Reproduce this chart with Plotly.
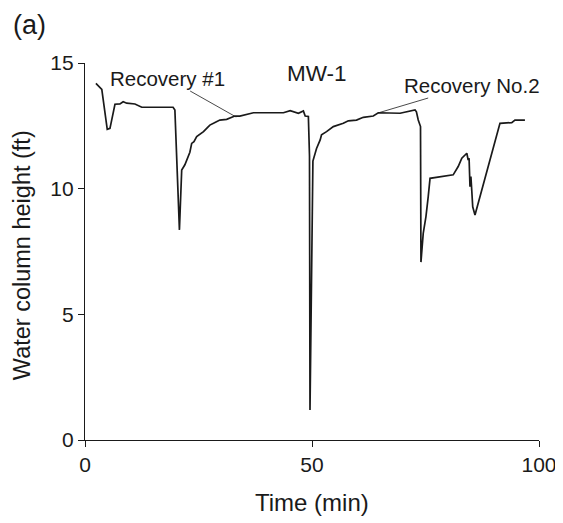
import plotly.graph_objects as go

# Time (min) and water column height (ft)
time_min = [2.4, 3.7, 4.9, 5.5, 6.6, 7.7, 8.4, 9.2, 11.0, 12.5, 19.4, 19.8, 20.8,
            21.3, 22.0, 22.4, 23.1, 23.5, 24.0, 24.6, 25.2, 26.1, 26.8, 27.5, 28.3,
            29.7, 31.2, 33.0, 34.1, 37.1, 43.7, 45.2, 47.0, 48.1, 48.5, 49.2, 49.45,
            49.56, 50.2, 50.5, 51.0, 51.8, 52.1, 53.2, 54.7, 56.9, 58.0, 59.8, 61.3,
            63.5, 64.6, 69.4, 72.7, 73.0, 73.4, 73.9, 74.0, 74.5, 75.1, 75.6, 76.0,
            81.1, 82.2, 83.0, 83.7, 84.1, 84.4, 84.6, 84.8, 85.0, 85.2, 85.4, 85.9,
            91.4, 94.0, 94.7, 96.9]
height_ft = [14.19, 13.95, 12.36, 12.4, 13.36, 13.37, 13.46, 13.4, 13.37, 13.24, 13.24,
             13.13, 8.36, 10.74, 10.95, 11.14, 11.45, 11.8, 11.87, 12.07, 12.14, 12.27,
             12.4, 12.53, 12.6, 12.73, 12.76, 12.89, 12.89, 13.02, 13.02, 13.1, 13.0,
             13.09, 12.89, 12.87, 11.3, 1.19, 11.1, 11.3, 11.6, 11.94, 12.14, 12.27,
             12.47, 12.6, 12.7, 12.73, 12.84, 12.89, 13.02, 13.0, 13.13, 13.06, 12.73,
             12.47, 7.08, 8.22, 8.89, 9.68, 10.41, 10.55, 10.88, 11.21, 11.34, 11.41,
             11.14, 11.21, 10.08, 10.48, 9.9, 9.28, 8.95, 12.6, 12.63, 12.73, 12.73]

x_ticks = [0, 50, 100]
y_ticks = [0, 5, 10, 15]

FONT = "Liberation Sans, Arial, Helvetica, sans-serif"
INK = "#1a1a1a"

fig = go.Figure()
fig.add_trace(go.Scatter(x=time_min, y=height_ft, mode="lines",
                         line=dict(color=INK, width=1.7), showlegend=False))

# page body adds an 8px offset, so the figure is 8px smaller with the plot area kept in place
fig.update_layout(
    width=555, height=515,
    margin=dict(l=77, r=24, t=55, b=83, autoexpand=False),
    paper_bgcolor="white", plot_bgcolor="white",
    font=dict(family=FONT, color=INK, size=21),
    xaxis=dict(range=[0, 100], tickvals=x_ticks, showgrid=False, zeroline=False,
               showline=True, linecolor=INK, linewidth=1.2, ticks="outside",
               ticklen=6, tickcolor=INK, tickfont=dict(size=21), automargin=False),
    yaxis=dict(range=[0, 15], tickvals=y_ticks, showgrid=False, zeroline=False,
               showline=True, linecolor=INK, linewidth=1.2, ticks="outside",
               ticklen=6, tickcolor=INK, tickfont=dict(size=21), automargin=False),
    annotations=[
        dict(text="(a)", xref="paper", yref="paper", x=-0.163, y=1.1,
             xanchor="left", yanchor="middle", showarrow=False, font=dict(size=27)),
        dict(text="Time (min)", xref="paper", yref="paper", x=0.5, y=-0.165,
             xanchor="center", yanchor="middle", showarrow=False, font=dict(size=24)),
        dict(text="Water column height (ft)", xref="paper", yref="paper",
             x=-0.139, y=0.49, textangle=-90, xanchor="center", yanchor="middle",
             showarrow=False, font=dict(size=23.5)),
        dict(text="MW-1", x=51.0, y=14.6, xref="x", yref="y", showarrow=False,
             font=dict(size=22.5)),
        dict(text="Recovery #1", x=33.3, y=12.85, xref="x", yref="y",
             showarrow=True, arrowhead=0, arrowwidth=0.8, arrowcolor=INK,
             ax=-69, ay=-39, font=dict(size=20.5)),
        dict(text="Recovery No.2", x=64.5, y=13.01, xref="x", yref="y",
             showarrow=True, arrowhead=0, arrowwidth=0.8, arrowcolor=INK,
             ax=94, ay=-28, font=dict(size=20.5)),
    ],
)

fig.write_html("out.html")
